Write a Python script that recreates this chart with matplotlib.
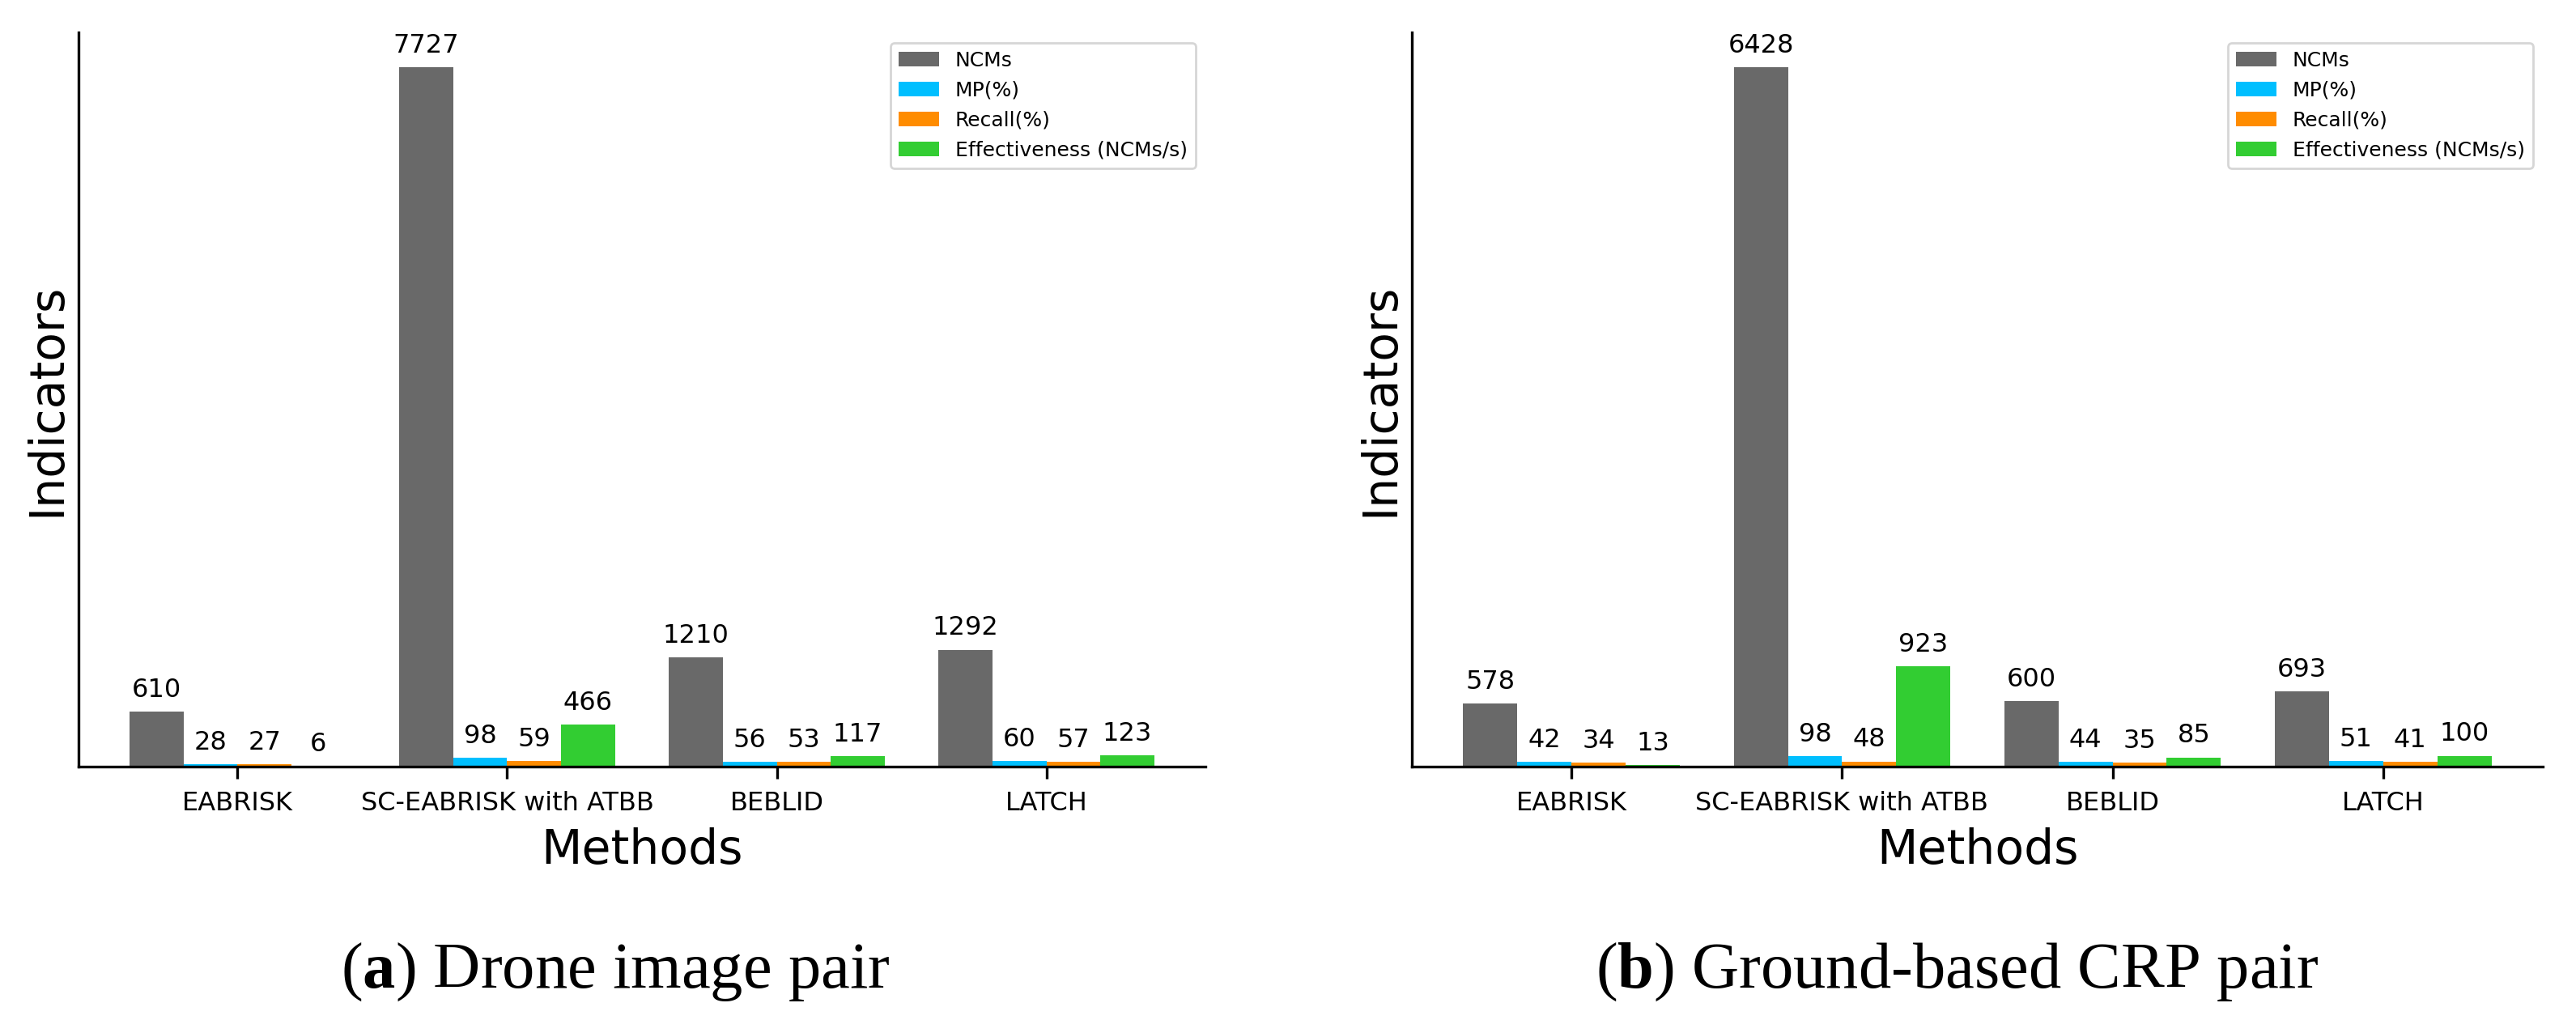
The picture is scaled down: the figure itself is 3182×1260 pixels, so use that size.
import numpy as np
import matplotlib
matplotlib.use("Agg")
import matplotlib.pyplot as plt

plt.rcParams['font.family'] = ['DejaVu Sans']
plt.rcParams['mathtext.fontset'] = 'custom'
plt.rcParams['mathtext.rm'] = 'Liberation Serif'
plt.rcParams['mathtext.bf'] = 'Liberation Serif:bold'

methods = ['EABRISK', 'SC-EABRISK with ATBB', 'BEBLID', 'LATCH']
series_names = ['NCMs', 'MP(%)', 'Recall(%)', 'Effectiveness (NCMs/s)']
bar_colors = ['#696969', '#00BFFF', '#FF8C00', '#32CD32']

# (a) drone image pair
drone_ncms = [610, 7727, 1210, 1292]
drone_mp = [28, 98, 56, 60]
drone_recall = [27, 59, 53, 57]
drone_eff = [6, 466, 117, 123]

# (b) ground-based CRP pair
ground_ncms = [578, 6428, 600, 693]
ground_mp = [42, 98, 44, 51]
ground_recall = [34, 48, 35, 41]
ground_eff = [13, 923, 85, 100]

captions = [r'($\mathbf{a}$) Drone image pair', r'($\mathbf{b}$) Ground-based CRP pair']

W, H, DPI = 3182, 1260, 200
fig = plt.figure(figsize=(W / DPI, H / DPI), dpi=DPI)

ax1 = fig.add_axes([97 / W, 1 - 947 / H, 1392 / W, (947 - 40) / H])
ax2 = fig.add_axes([1744 / W, 1 - 947 / H, 1397 / W, (947 - 40) / H])

x = np.arange(len(methods))
width = 0.2


def draw_panel(ax, data):
    for i, (vals, name, col) in enumerate(zip(data, series_names, bar_colors)):
        bars = ax.bar(x + (i - 1.5) * width, vals, width, label=name, color=col)
        ax.bar_label(bars, padding=4, fontsize=11.5)
    ax.set_xticks(x)
    ax.set_xticklabels(methods, fontsize=11.5)
    ax.set_yticks([])
    ax.set_xlabel('Methods', fontsize=21, labelpad=5)
    ax.set_ylabel('Indicators', fontsize=21)
    ax.spines['top'].set_visible(False)
    ax.spines['right'].set_visible(False)
    ax.spines['left'].set_linewidth(1.2)
    ax.spines['bottom'].set_linewidth(1.2)
    ax.tick_params(axis='x', length=5.4, width=1.2, pad=5.5)
    ax.legend(loc='upper right', fontsize=9, labelspacing=0.52)


draw_panel(ax1, [drone_ncms, drone_mp, drone_recall, drone_eff])
draw_panel(ax2, [ground_ncms, ground_mp, ground_recall, ground_eff])

fig.text(760 / W, 1 - 1220 / H, captions[0], ha='center', va='baseline',
         fontsize=29, family='Liberation Serif')
fig.text(2418 / W, 1 - 1220 / H, captions[1], ha='center', va='baseline',
         fontsize=29, family='Liberation Serif')

fig.savefig('out.png', dpi=DPI)
